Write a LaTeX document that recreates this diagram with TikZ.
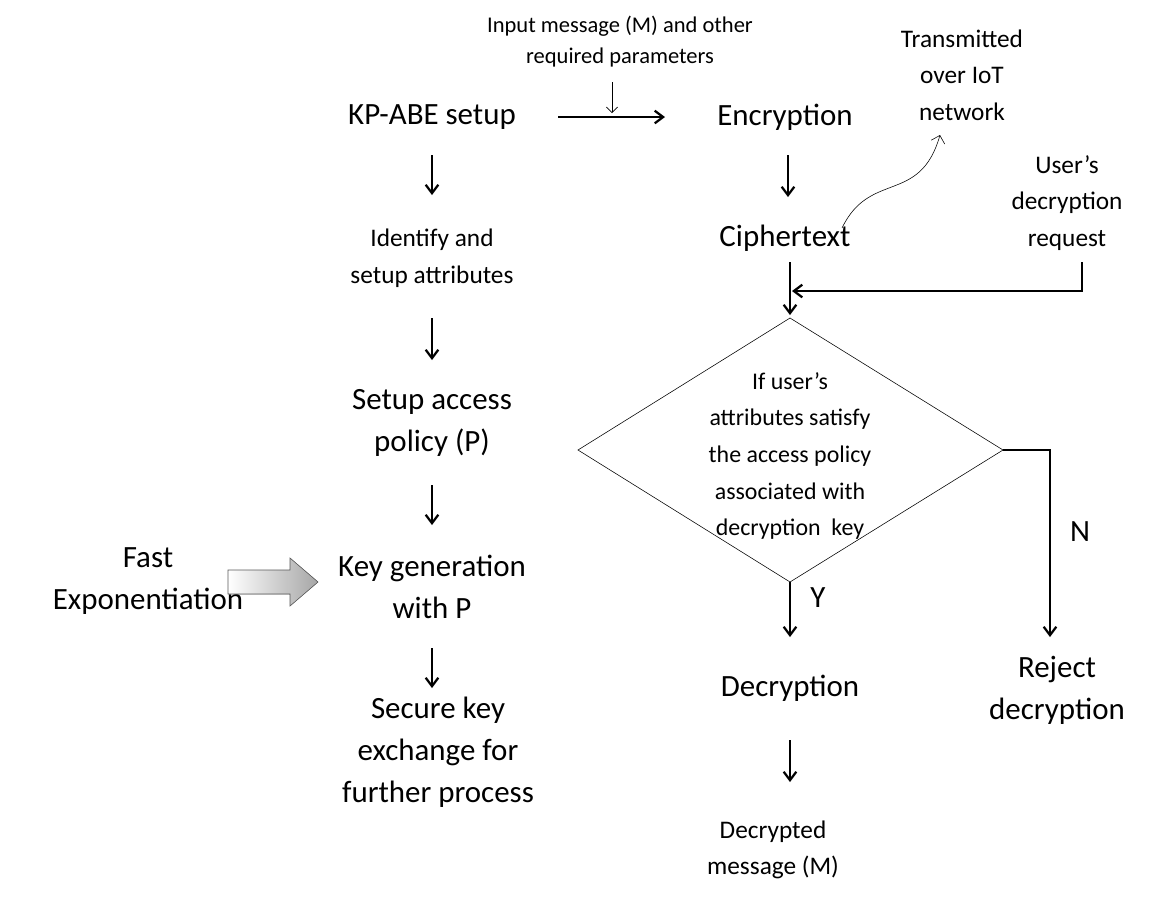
\documentclass[tikz,border=0pt]{standalone}
\usepackage{fontspec}
\setmainfont{Carlito}
\usetikzlibrary{arrows.meta,shapes.geometric}
\begin{document}
\begin{tikzpicture}[x=0.025cm,y=-0.025cm,
  big/.style={font=\fontsize{22}{30}\selectfont,align=center},
  mid/.style={font=\fontsize{18}{26}\selectfont,align=center},
  sm/.style={font=\fontsize{16}{22}\selectfont,align=center},
  arr/.style={line width=1.6pt,-{Straight Barb[length=6pt,width=9pt]}},
  ln/.style={line width=1.6pt}]
\useasboundingbox (0,0) rectangle (1160,904);
\node[big] (kp) at (432,117) {KP-ABE setup};
\node[big] (enc) at (785,117) {Encryption};
\node[sm] (in) at (620,42) {Input message (M) and other\\required parameters};
\node[mid] (tr) at (962,75) {Transmitted\\over IoT\\network};
\node[big] (ct) at (785,238) {Ciphertext};
\node[mid] (ur) at (1067,203) {User’s\\decryption\\request};
\node[mid] (id) at (432,258) {Identify and\\setup attributes};
\node[big] (sp) at (432,423) {Setup access\\policy (P)};
\node[big] (kg) at (432,587) {Key generation\\with P};
\node[big] (sk) at (438,752) {Secure key\\exchange for\\further process};
\node[big] (fe) at (148,581) {Fast\\Exponentiation};
\coordinate (dt) at (790,318);
\coordinate (dr) at (1003,450);
\coordinate (db) at (790,582);
\coordinate (dl) at (578,450);
\draw (dt) -- (dr) -- (db) -- (dl) -- cycle;
\node[font=\fontsize{17}{26}\selectfont,align=center] (dq) at (790,456) {If user’s\\attributes satisfy\\the access policy\\associated with\\decryption\ \ key};
\node[big] (de) at (790,688) {Decryption};
\node[big] (rj) at (1057,690) {Reject\\decryption};
\node[mid] (dmsg) at (773,850) {Decrypted\\message (M)};
\node[big] (N) at (1080,532) {N};
\node[big] (Y) at (818,598) {Y};
\draw[arr] (558,117) -- (665,117);
\draw[-{Straight Barb[length=4pt]}] (612,82) -- (612,113);
\foreach \a/\b in {155/195,318/360,485/525,648/688}
  \draw[arr] (432,\a) -- (432,\b);
\draw[arr] (788,155) -- (788,197);
\draw[arr] (790,262) -- (790,315);
\draw[arr] (1082,262) -- (1082,291) -- (792,291);
\draw[arr] (dr) -- (1050,450) -- (1050,637);
\draw[arr] (db) -- (790,637);
\draw[arr] (790,740) -- (790,782);
\draw[-{Straight Barb[length=5pt]}] (842,228) .. controls (870,170) and (920,205) .. (940,135);
\fill[left color=white,right color=gray!70,draw=gray!70!black] (228,570) -- (290,570) -- (290,558) -- (318,582) -- (290,606) -- (290,594) -- (228,594) -- cycle;
\end{tikzpicture}
\end{document}
